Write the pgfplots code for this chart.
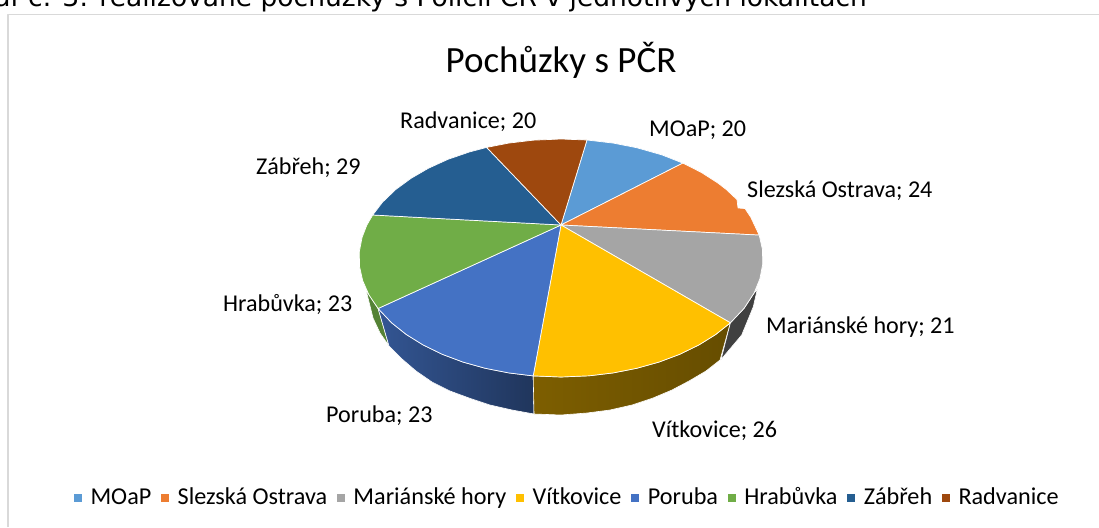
\documentclass[border=0pt]{standalone}
\usepackage{fontspec}
\setmainfont{Carlito}
\newfontfamily\headfont{DejaVu Sans}
\usepackage{pgfplots}
\pgfplotsset{compat=1.18}
\definecolor{cMOaP}{HTML}{5B9BD5}
\definecolor{cSlezska}{HTML}{ED7D31}
\definecolor{cMarianske}{HTML}{A5A5A5}
\definecolor{cVitkovice}{HTML}{FFC000}
\definecolor{cPoruba}{HTML}{4472C4}
\definecolor{cHrabuvka}{HTML}{70AD47}
\definecolor{cZabreh}{HTML}{255E91}
\definecolor{cRadvanice}{HTML}{9E480E}
\definecolor{frameline}{HTML}{D9D9D9}
\newcommand{\lab}[1]{\fontsize{24.1}{27}\selectfont #1}
\begin{document}
\begin{tikzpicture}
\path[use as bounding box] (0,0) rectangle (1099pt,527pt);
\begin{axis}[
    at={(0,0)}, anchor=south west,
    scale only axis, width=1099pt, height=527pt,
    xmin=0, xmax=1099, ymin=0, ymax=527,
    y dir=reverse,
    hide axis,
    legend style={
        at={(0.5163,0.0547)}, anchor=center,
        draw=none, fill=none,
        legend columns=-1,
        font=\fontsize{24.2}{27}\selectfont,
        nodes={text height=17pt, text depth=5pt},
        /tikz/every odd column/.append style={column sep=6.4pt},
        /tikz/every even column/.append style={column sep=7.9pt},
    },
    legend image code/.code={\path[#1,draw=none] (0pt,-4pt) rectangle (8pt,4pt);},
    every axis plot/.append style={line join=round},
]
% frame of the chart area
\addplot[frameline, line width=1.6pt, forget plot] coordinates {(7.7,527)(7.7,14.7)(1099,14.7)};

% side walls
\addplot[forget plot, draw=white, line width=0.6pt, fill=cHrabuvka!75!black] coordinates {
    (378.1,308.5)(368.9,294.8)(366,290)(373,318)(380,333)(389,346)} -- cycle;
\addplot[forget plot, draw=white, line width=0.6pt, left color=cPoruba!75!black, right color=cPoruba!47!black] coordinates {
    (378.1,308.5)(391.6,322.8)(406.3,334.5)(423.2,345)(442.3,354.3)(463.1,362.1)(485.3,368.3)(508.7,372.9)(533.2,375.9)
    (534,414)(512,410)(490,405)(469,398)(450,391)(432,382)(416,371)(402,359)(389,346)} -- cycle;
\addplot[forget plot, draw=white, line width=0.6pt, left color=cVitkovice!49!black, middle color=cVitkovice!40!black, right color=cVitkovice!40!black] coordinates {
    (533.2,375.9)(561,377)(589.1,375.8)(613.3,372.9)(636.7,368.3)(658.9,362.1)(679.7,354.3)(698.8,345)(715.7,334.5)(730.4,322.8)
    (720,360)(706,371)(689,381)(672,390)(653,398)(632,405)(610,410)(587,413)(561,415)(534,414)} -- cycle;
\addplot[forget plot, draw=white, line width=0.6pt, fill=black!75] coordinates {
    (730.4,322.8)(744.1,308.3)(754.2,292.8)(757.3,289.3)(753.3,306.7)(741.7,335)(721,359.5)} -- cycle;

% top of the pie
\addplot[fill=cMOaP, draw=white, line width=0.7pt] coordinates {
    (561,225)(587,140)(613.3,143.1)(636.7,147.7)(662,154.9)(682.8,163.1)} -- cycle;
\addlegendentry{MOaP}
\addplot[fill=cSlezska, draw=white, line width=0.7pt] coordinates {
    (561,225)(682.8,163.1)(701.3,172.4)(718,183.1)(726.5,189.7)(737,199.6)(738,208)(745,208.5)(750.8,217.3)(759.2,235.1)} -- cycle;
\addlegendentry{Slezská Ostrava}
\addplot[fill=cMarianske, draw=white, line width=0.7pt] coordinates {
    (561,225)(759.2,235.1)(762.5,249.7)(762.7,264.2)(759.9,278.7)(754.2,292.8)(744.1,308.3)(730.4,322.8)} -- cycle;
\addlegendentry{Mariánské hory}
\addplot[fill=cVitkovice, draw=white, line width=0.7pt] coordinates {
    (561,225)(730.4,322.8)(715.7,334.5)(698.8,345)(679.7,354.3)(658.9,362.1)(636.7,368.3)(613.3,372.9)(589.1,375.8)(561,377)(533.2,375.9)} -- cycle;
\addlegendentry{Vítkovice}
\addplot[fill=cPoruba, draw=white, line width=0.7pt] coordinates {
    (561,225)(533.2,375.9)(508.7,372.9)(485.3,368.3)(463.1,362.1)(442.3,354.3)(423.2,345)(406.3,334.5)(391.6,322.8)(378.1,308.5)} -- cycle;
\addlegendentry{Poruba}
\addplot[fill=cHrabuvka, draw=white, line width=0.7pt] coordinates {
    (561,225)(378.1,308.5)(368.9,294.8)(362.7,280.7)(359.5,266.3)(359.3,251.8)(362.1,237.3)(366.8,225.2)(372.7,215)} -- cycle;
\addlegendentry{Hrabůvka}
\addplot[fill=cZabreh, draw=white, line width=0.7pt] coordinates {
    (561,225)(372.7,215)(382.6,202.1)(395.5,189.7)(410.9,178.4)(428.5,168.2)(448,159.3)(469.3,152)(486.6,147.4)} -- cycle;
\addlegendentry{Zábřeh}
\addplot[fill=cRadvanice, draw=white, line width=0.7pt] coordinates {
    (561,225)(486.6,147.4)(508.7,143.1)(532.9,140.2)(561,139)(587,140)} -- cycle;
\addlegendentry{Radvanice}

% caption above the chart, cut off by the edge of the picture
\node[anchor=base east, inner sep=0pt, font=\headfont\fontsize{26.5}{30}\selectfont] at (axis cs:867,6.5)
    {Graf č. 3: realizované pochůzky s Policií ČR v jednotlivých lokalitách};
% chart title
\node[anchor=base, inner sep=0pt, font=\fontsize{37}{40}\selectfont] at (axis cs:561,72.5) {Pochůzky s PČR};
% data labels
\node[anchor=base west, inner sep=0pt] at (axis cs:400,128) {\lab{Radvanice; 20}};
\node[anchor=base west, inner sep=0pt] at (axis cs:649,136) {\lab{MOaP; 20}};
\node[anchor=base west, inner sep=0pt] at (axis cs:747,197) {\lab{Slezská Ostrava; 24}};
\node[anchor=base west, inner sep=0pt] at (axis cs:256,174) {\lab{Zábřeh; 29}};
\node[anchor=base west, inner sep=0pt] at (axis cs:766,333) {\lab{Mariánské hory; 21}};
\node[anchor=base west, inner sep=0pt] at (axis cs:223,311) {\lab{Hrabůvka; 23}};
\node[anchor=base west, inner sep=0pt] at (axis cs:326,422) {\lab{Poruba; 23}};
\node[anchor=base west, inner sep=0pt] at (axis cs:652,437) {\lab{Vítkovice; 26}};
\end{axis}
\end{tikzpicture}
\end{document}
